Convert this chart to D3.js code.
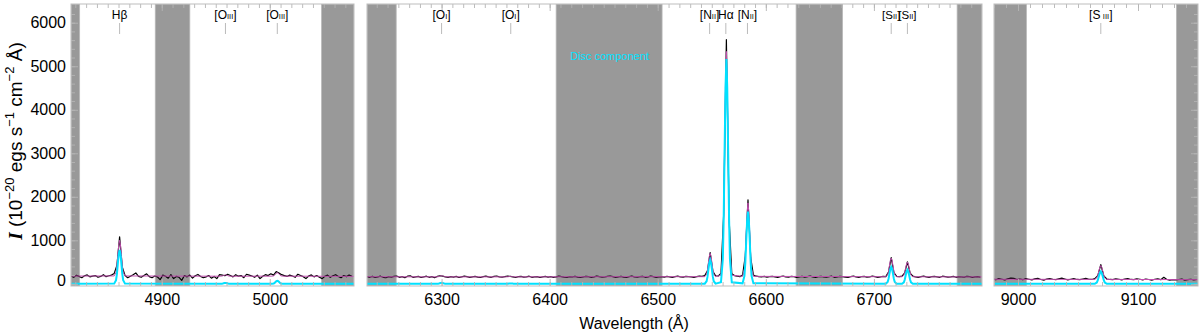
<!DOCTYPE html>
<html>
<head>
<meta charset="utf-8">
<script src="https://d3js.org/d3.v7.min.js"></script>
<style>
body { margin: 0; background: #fff; }
svg { display: block; font-family: "Liberation Sans", Arial, Helvetica, sans-serif; }
.band { fill: #999; stroke: #b8b8b8; stroke-width: 0.8; }
.frame { fill: none; stroke: #bdbdbd; stroke-width: 1; }
.axis path { display: none; }
.axis line { stroke: #b4b4b4; stroke-width: 0.9; }
.axis text { font-size: 16px; fill: #000; font-family: "Liberation Sans", Arial, sans-serif; }
.obs { fill: none; stroke: #000; stroke-width: 1.2; stroke-linejoin: round; }
.fit { fill: none; stroke: #c24fb0; stroke-width: 1; }
.disc { fill: none; stroke: #00e1ff; stroke-width: 2; }
.marker { stroke: #bbb; stroke-width: 1; }
.linelab { font-size: 12px; fill: #000; }
</style>
</head>
<body>
<svg width="1200" height="334"></svg>
<script>

// wavelength ranges of the three panels
var panelRanges = [[4816, 5078], [6231, 6800], [8980, 9150]];
var panelTicks = [[4900, 5000], [6300, 6400, 6500, 6600, 6700], [9000, 9100]];
var yTicks = [0, 1000, 2000, 3000, 4000, 5000, 6000];

// masked (grey) wavelength windows
var maskBands = [
  [4816, 4824], [4894, 4926], [5048, 5078],
  [6231, 6258], [6406, 6504], [6628, 6671], [6777, 6800],
  [8980, 9007], [9132, 9150]
];

// emission line markers
var lineWaves = [4861, 4959, 5007, 6300, 6364, 6548, 6563, 6583, 6716, 6731, 9069];
var lineElems = ["H\u03b2", "[O", "[O", "[O", "[O", "[N", "H\u03b1", "[N", "[S", "[S", "[S\u2009"];
var lineIons  = ["", "III", "III", "I", "I", "II", "", "II", "II", "II", "III"];

// model profiles, sampled at these offsets (Å) from each line centre
var profileOffsets = [-5, -3.3, -2.5, -1.7, -0.8, 0, 0.8, 1.7, 2.5, 3.3, 5];
var discProfiles = [
  [5, 85, 225, 449, 679, 780, 679, 449, 225, 85, 5],
  [0, 2, 6, 12, 17, 20, 17, 12, 6, 2, 0],
  [0, 8, 20, 40, 61, 70, 61, 40, 20, 8, 0],
  [0, 2, 6, 13, 19, 22, 19, 13, 6, 2, 0],
  [0, 1, 2, 5, 7, 8, 7, 5, 2, 1, 0],
  [4, 60, 158, 316, 479, 550, 479, 316, 158, 60, 4],
  [36, 563, 1488, 2970, 4499, 5165, 4499, 2970, 1488, 563, 36],
  [12, 181, 478, 955, 1446, 1660, 1446, 955, 478, 181, 12],
  [3, 43, 112, 224, 340, 390, 340, 224, 112, 43, 3],
  [2, 35, 92, 184, 279, 320, 279, 184, 92, 35, 2],
  [2, 31, 82, 163, 246, 283, 246, 163, 82, 31, 2]
];
var fitProfiles = [
  [181, 265, 413, 649, 894, 1000, 894, 649, 413, 265, 181],
  [175, 178, 184, 192, 201, 205, 201, 192, 184, 178, 175],
  [176, 184, 198, 221, 245, 255, 245, 221, 198, 184, 176],
  [160, 163, 167, 174, 182, 185, 182, 174, 167, 163, 160],
  [160, 161, 163, 166, 169, 170, 169, 166, 163, 161, 160],
  [164, 219, 316, 471, 630, 700, 630, 471, 316, 219, 164],
  [196, 725, 1652, 3139, 4672, 5340, 4672, 3139, 1652, 725, 196],
  [172, 345, 650, 1138, 1641, 1860, 1641, 1138, 650, 345, 172],
  [163, 207, 284, 407, 535, 590, 535, 407, 284, 207, 163],
  [162, 197, 258, 356, 456, 500, 456, 356, 258, 197, 162],
  [102, 135, 192, 284, 379, 420, 379, 284, 192, 135, 102]
];
var fitContinuum = [
  [[4816, 178], [5078, 172]],
  [[6231, 162], [6800, 158]],
  [[8979, 105], [9150, 95]]
];

// observed spectrum, 2.5 Å sampling from the given start wavelength
var obsStart = [4816, 6231, 8979];
var obsStep = 2.5;
var obsBlue = [
  180, 150, 195, 170, 140, 185, 205, 160, 175, 190,
  150, 170, 210, 165, 185, 200, 240, 420, 1080, 380,
  190, 140, 175, 210, 250, 170, 150, 190, 230, 165,
  140, 180, 160, 95, 200, 175, 130, 210, 120, 170,
  150, 80, 190, 160, 200, 130, 185, 215, 170, 140,
  160, 190, 130, 170, 120, 210, 200, 185, 220, 190,
  160, 210, 175, 190, 140, 220, 200, 180, 150, 200,
  120, 175, 210, 190, 230, 200, 280, 250, 210, 190,
  170, 200, 180, 150, 220, 190, 165, 120, 180, 205,
  160, 190, 150, 120, 175, 200, 150, 185, 210, 170,
  140, 190, 165, 200, 175
];
var obsRed = [
  165, 150, 170, 145, 160, 175, 150, 140, 165, 155,
  170, 180, 150, 165, 140, 175, 185, 150, 160, 170,
  145, 160, 175, 150, 165, 140, 170, 185, 175, 160,
  150, 165, 155, 170, 145, 160, 175, 165, 150, 160,
  170, 155, 145, 165, 175, 160, 150, 170, 180, 160,
  155, 165, 175, 170, 160, 145, 165, 170, 155, 160,
  175, 150, 160, 165, 145, 160, 170, 155, 165, 150,
  160, 175, 165, 155, 150, 165, 160, 170, 155, 145,
  160, 170, 165, 150, 160, 175, 165, 155, 160, 170,
  180, 165, 150, 160, 170, 155, 145, 165, 175, 160,
  155, 165, 170, 150, 160, 175, 165, 150, 160, 165,
  155, 170, 160, 150, 165, 175, 160, 155, 170, 165,
  160, 150, 165, 175, 170, 190, 300, 715, 290, 185,
  180, 240, 1600, 5610, 1500, 230, 190, 175, 165, 200,
  640, 1930, 600, 200, 175, 165, 160, 170, 155, 165,
  170, 160, 150, 165, 175, 160, 155, 170, 165, 150,
  160, 170, 155, 165, 175, 160, 150, 165, 170, 160,
  155, 165, 175, 150, 160, 170, 165, 155, 145, 165,
  175, 160, 150, 165, 170, 155, 160, 175, 165, 150,
  160, 170, 165, 270, 600, 260, 170, 165, 175, 250,
  505, 245, 175, 160, 150, 165, 175, 160, 150, 165,
  170, 160, 150, 175, 165, 155, 160, 170, 150, 165,
  160, 155, 170, 165, 150, 160, 165, 155
];
var obsNIR = [
  110, 95, 120, 105, 90, 115, 130, 125, 100, 110,
  95, 120, 105, 90, 115, 125, 100, 85, 110, 120,
  105, 95, 115, 130, 110, 90, 105, 120, 100, 95,
  110, 125, 105, 100, 120, 190, 440, 180, 110, 100,
  95, 115, 105, 90, 110, 120, 100, 95, 115, 105,
  90, 110, 100, 85, 105, 115, 95, 150, 100, 85,
  95, 90, 100, 110, 85, 95, 105, 90, 100
];
var obsSets = [obsBlue, obsRed, obsNIR];

// layout
var panelX = [[71, 354], [367, 982], [994, 1198]];
var plotTop = 4, plotBottom = 286;

var svg = d3.select("svg");
var y = d3.scaleLinear().domain([-50, 6430]).range([plotBottom, plotTop]);

var line = d3.line()
  .x(function(d) { return d[0]; })
  .y(function(d) { return d[1]; });

panelRanges.forEach(function(range, i) {
  var x = d3.scaleLinear().domain(range).range(panelX[i]);
  var g = svg.append("g");
  var w = panelX[i][1] - panelX[i][0];

  g.append("clipPath").attr("id", "clip" + i)
    .append("rect")
    .attr("x", panelX[i][0]).attr("y", plotTop)
    .attr("width", w).attr("height", plotBottom - plotTop);

  var inner = g.append("g").attr("clip-path", "url(#clip" + i + ")");

  // grey masked windows
  inner.selectAll("rect.band")
    .data(maskBands.filter(function(b) { return b[1] > range[0] && b[0] < range[1]; }))
    .enter().append("rect")
    .attr("class", "band")
    .attr("x", function(b) { return x(Math.max(b[0], range[0])); })
    .attr("width", function(b) { return x(Math.min(b[1], range[1])) - x(Math.max(b[0], range[0])); })
    .attr("y", plotTop)
    .attr("height", plotBottom - plotTop);

  // ticks: minor every 10 Å, major every 100 Å
  var minor = d3.range(Math.ceil(range[0] / 10) * 10, range[1], 10);
  var axes = [
    [d3.axisBottom, plotBottom, -4, minor, false],
    [d3.axisBottom, plotBottom, -7, panelTicks[i], true],
    [d3.axisTop, plotTop, -4, minor, false],
    [d3.axisTop, plotTop, -7, panelTicks[i], false]
  ];
  axes.forEach(function(a) {
    var ax = a[0](x).tickValues(a[3]).tickSize(a[2]).tickPadding(8);
    if (!a[4]) ax.tickFormat("");
    else ax.tickFormat(d3.format("d"));
    g.append("g").attr("class", "axis")
      .attr("transform", "translate(0," + a[1] + ")")
      .call(ax);
  });

  // y ticks on outer edges
  var yMinor = d3.range(0, 6400, 200);
  if (i === 0) {
    g.append("g").attr("class", "axis").attr("transform", "translate(" + panelX[i][0] + ",0)")
      .call(d3.axisLeft(y).tickValues(yMinor).tickSize(-4).tickFormat(""));
    var yax = g.append("g").attr("class", "axis").attr("transform", "translate(" + panelX[i][0] + ",0)")
      .call(d3.axisLeft(y).tickValues(yTicks).tickSize(-7).tickPadding(5).tickFormat(d3.format("d")));
    // lowest label sits a little higher, as in the original plot
    yax.selectAll(".tick text").filter(function(d) { return d === 0; }).attr("y", -3);
  }
  if (i === 2) {
    g.append("g").attr("class", "axis").attr("transform", "translate(" + panelX[i][1] + ",0)")
      .call(d3.axisRight(y).tickValues(yMinor).tickSize(-4).tickFormat(""));
    g.append("g").attr("class", "axis").attr("transform", "translate(" + panelX[i][1] + ",0)")
      .call(d3.axisRight(y).tickValues(yTicks).tickSize(-7).tickFormat(""));
  }

  // observed spectrum
  var obs = obsSets[i].map(function(v, k) { return [x(obsStart[i] + k * obsStep), y(v)]; });
  inner.append("path").attr("class", "obs").attr("d", line(obs));

  // lines in this panel
  var idx = d3.range(lineWaves.length).filter(function(k) {
    return lineWaves[k] > range[0] && lineWaves[k] < range[1];
  });

  // total fit and disc component
  var fitPts = fitContinuum[i].slice();
  var discPts = [[range[0] - 5, 0], [range[1] + 5, 0]];
  idx.forEach(function(k) {
    var c = lineWaves[k] + (k >= 5 && k <= 7 ? 0.5 : 0);
    profileOffsets.forEach(function(o, j) {
      fitPts.push([c + o, fitProfiles[k][j]]);
      discPts.push([c + o, discProfiles[k][j]]);
    });
  });
  fitPts.sort(function(a, b) { return a[0] - b[0]; });
  discPts.sort(function(a, b) { return a[0] - b[0]; });
  inner.append("path").attr("class", "fit")
    .attr("d", line(fitPts.map(function(d) { return [x(d[0]), y(d[1])]; })));
  inner.append("path").attr("class", "disc")
    .attr("d", line(discPts.map(function(d) { return [x(d[0]), y(d[1])]; })));

  // frame
  g.append("rect").attr("class", "frame")
    .attr("x", panelX[i][0]).attr("y", plotTop)
    .attr("width", w).attr("height", plotBottom - plotTop);

  // line markers and labels
  idx.forEach(function(k) {
    var lx = x(lineWaves[k]);
    g.append("line").attr("class", "marker")
      .attr("x1", lx).attr("x2", lx).attr("y1", 23).attr("y2", 34);
    var t = g.append("text").attr("class", "linelab")
      .attr("x", lx).attr("y", 19).attr("text-anchor", "middle");
    if (k === 8 || k === 9) t.style("font-size", "11.5px");
    t.append("tspan").text(lineElems[k]);
    if (lineIons[k]) {
      t.append("tspan").style("font-size", "7.5px").text(lineIons[k]);
      t.append("tspan").text("]");
    }
  });

  if (i === 1) {
    g.append("text")
      .attr("x", x(6419)).attr("y", 60)
      .style("font-size", "11px").style("fill", "#00e1ff")
      .text("Disc component");
  }
});

// axis titles
svg.append("text")
  .attr("x", 634).attr("y", 329)
  .attr("text-anchor", "middle")
  .style("font-size", "16px")
  .text("Wavelength (\u00c5)");

var yl = svg.append("text")
  .attr("transform", "translate(22,141) rotate(-90)")
  .attr("text-anchor", "middle")
  .style("font-size", "19px");
yl.append("tspan").style("font-family", "'Liberation Serif', 'DejaVu Serif', serif")
  .style("font-weight", "bold").style("font-style", "italic").text("I");
yl.append("tspan").text(" (10");
yl.append("tspan").attr("dy", -8).style("font-size", "13px").text("\u221220");
yl.append("tspan").attr("dy", 8).text(" egs s");
yl.append("tspan").attr("dy", -8).style("font-size", "13px").text("\u22121");
yl.append("tspan").attr("dy", 8).text(" cm");
yl.append("tspan").attr("dy", -8).style("font-size", "13px").text("\u22122");
yl.append("tspan").attr("dy", 8).text(" \u00c5)");

</script>
</body>
</html>
